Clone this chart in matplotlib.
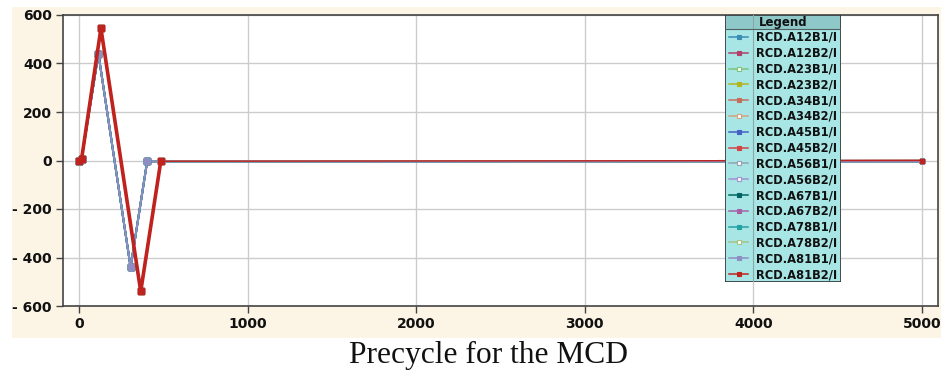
import matplotlib
matplotlib.use("Agg")
import matplotlib.pyplot as plt
from matplotlib.patches import Rectangle
from matplotlib.lines import Line2D

# Circuit names and colours, in legend order
circuits = ["RCD.A12B1/I", "RCD.A12B2/I", "RCD.A23B1/I", "RCD.A23B2/I",
            "RCD.A34B1/I", "RCD.A34B2/I", "RCD.A45B1/I", "RCD.A45B2/I",
            "RCD.A56B1/I", "RCD.A56B2/I", "RCD.A67B1/I", "RCD.A67B2/I",
            "RCD.A78B1/I", "RCD.A78B2/I", "RCD.A81B1/I", "RCD.A81B2/I"]
colors = ["#3a8cb4", "#b2406a", "#7cc47c", "#b4b41e",
          "#c46e5e", "#d4a07e", "#4462c4", "#d44444",
          "#92a2b2", "#a292d4", "#006464", "#a462a4",
          "#22a2a2", "#a4c482", "#8e8ec4", "#c0221e"]
hollow = [False, False, True, False, False, True, False, False,
          True, True, False, False, False, True, False, False]

# Precycle current profiles (time, current)
t_b1 = [0, 15, 115, 306, 405, 5000]
i_b1 = [0, 5, 440, -440, 0, 0]
t_b2 = [0, 15, 130, 366, 485, 5000]
i_b2 = [0, 5, 545, -540, -3, 0]

xticks = [0, 1000, 2000, 3000, 4000, 5000]
yticks = [-600, -400, -200, 0, 200, 400, 600]

W, H = 941, 372
fig = plt.figure(figsize=(W / 100, H / 100), dpi=100)
fig.patch.set_facecolor("white")

def fx(px):
    return px / W

def fy(py):
    return 1 - py / H

# panel background
bg = fig.add_axes([fx(12), fy(338), fx(941 - 12), (338 - 7) / H], zorder=-5)
bg.set_facecolor("#fcf5e6")
bg.set_xticks([])
bg.set_yticks([])
for s in bg.spines.values():
    s.set_visible(False)

ax = fig.add_axes([fx(63), fy(306), fx(938 - 63), (306 - 15) / H])
ax.set_facecolor("white")
ax.set_xlim(-95, 5095)
ax.set_ylim(-600, 600)
ax.set_xticks(xticks)
ax.set_yticks(yticks)
ax.set_xticklabels([str(v) for v in xticks])
ax.set_yticklabels([str(v).replace("-", "- ") if v < 0 else str(v) for v in yticks])
ax.grid(True, color="#cccccc", linewidth=1)
ax.set_axisbelow(True)
for s in ax.spines.values():
    s.set_color("#444444")
    s.set_linewidth(1.2)
ax.tick_params(direction="out", length=5, width=1, color="#444444",
               labelsize=10, pad=3)
for lab in ax.get_xticklabels() + ax.get_yticklabels():
    lab.set_fontweight("bold")
    lab.set_color("#111111")

for k, (name, c) in enumerate(zip(circuits, colors)):
    if name.endswith("B1/I"):
        tx, iy = t_b1, i_b1
    else:
        tx, iy = t_b2, i_b2
    last = k == len(circuits) - 1
    # cycling part (until current is back at zero), then the flat tail
    n = len(tx) - 1
    ax.plot(tx[:n], iy[:n], color=c, linewidth=2.6 if last else 1.4,
            marker="s", markersize=5 if last else 4,
            markerfacecolor=c, markeredgecolor=c, zorder=2 + k * 0.01)
    ax.plot(tx[n - 1:], iy[n - 1:], color=c, linewidth=1.0,
            marker="s", markersize=3, markevery=[1],
            markerfacecolor=c, markeredgecolor=c, zorder=2 + k * 0.01)

# legend panel
lg = fig.add_axes([fx(725), fy(282), fx(841 - 725), (282 - 15) / H])
lg.set_xlim(0, 116)
lg.set_ylim(267, 0)
lg.axis("off")
lg.add_patch(Rectangle((0, 0), 116, 267, facecolor="#a8e6e6", edgecolor="none"))
lg.add_patch(Rectangle((0, 0), 116, 14, facecolor="#8fc8c8", edgecolor="none"))
lg.plot([28, 28], [0, 267], color="#8aa8a8", linewidth=0.8)
lg.plot([0, 116], [14, 14], color="#506060", linewidth=0.8)
lg.add_patch(Rectangle((0, 0), 116, 267, facecolor="none",
                       edgecolor="#333333", linewidth=1.2))
lg.text(58, 7.5, "Legend", ha="center", va="center", fontsize=8.5,
        fontweight="bold", color="#111111")
row = (267 - 14) / 16
for k, (name, c) in enumerate(zip(circuits, colors)):
    yc = 14 + row * (k + 0.5)
    lg.add_line(Line2D([4, 23], [yc, yc], color=c, linewidth=1.1))
    lg.plot([13.5], [yc], marker="s", markersize=3.2, color=c,
            markerfacecolor="white" if hollow[k] else c, markeredgewidth=0.8)
    lg.text(31, yc + 0.5, name, ha="left", va="center", fontsize=8.3,
            fontweight="bold", color="#111111")

fig.text(fx(488), fy(355), "Precycle for the MCD", ha="center", va="center",
         fontsize=22.7, family="Liberation Serif", color="#111111")

fig.savefig("out.png", dpi=100)
